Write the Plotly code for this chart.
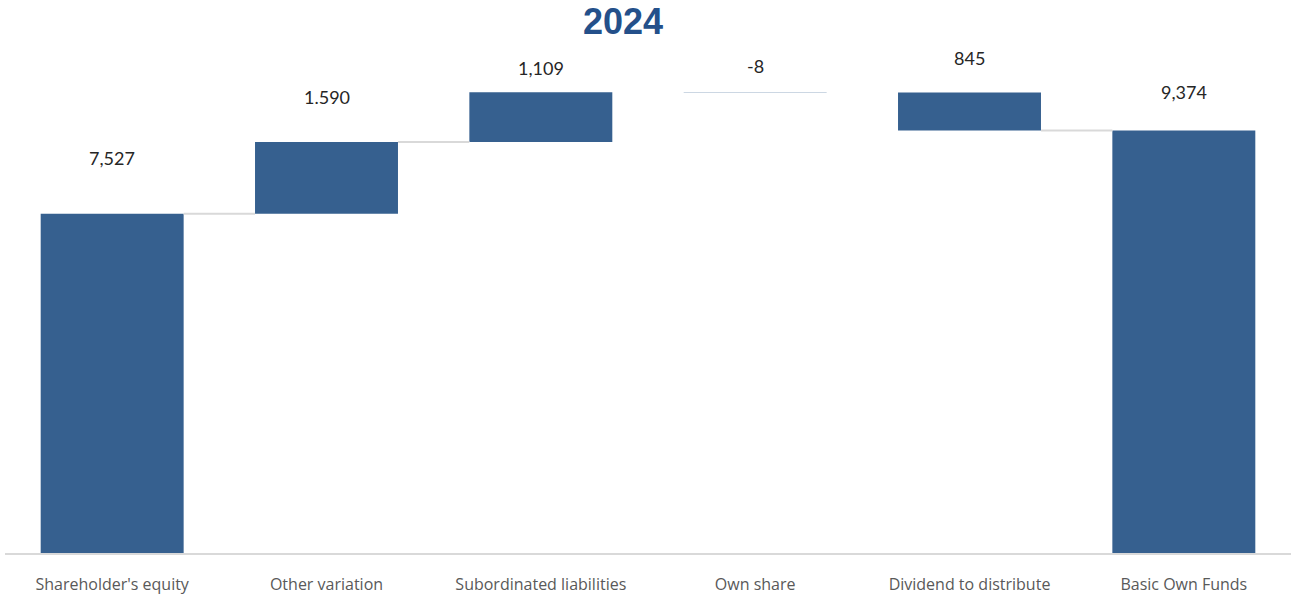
import plotly.graph_objects as go

# ---- data ----
categories = ["Shareholder's equity", "Other variation", "Subordinated liabilities",
              "Own share", "Dividend to distribute", "Basic Own Funds"]
values = [7527, 1590, 1109, -8, -845, 9374]
measures = ["absolute", "relative", "relative", "relative", "relative", "absolute"]
label_texts = ["7,527", "1.590", "1,109", "-8", "845", "9,374"]
title_text = "2024"

# ---- styling ----
BAR = "rgba(54,96,143,0.999)"
CONN = "#D9D9D9"
GAP = 0.333
label_shift = [56, 45, 24, 26, 35, 39]
connect_pairs = [(0, 1), (1, 2), (4, 5)]

x = list(range(len(categories)))

# cumulative levels (start/end of each bar)
starts, ends = [], []
level = 0
for v, m in zip(values, measures):
    if m == "absolute":
        s, e = 0, v
    else:
        s, e = level, level + v
    starts.append(s)
    ends.append(e)
    level = e

fig = go.Figure()
fig.add_trace(go.Waterfall(
    x=x, y=values, measure=measures,
    increasing=dict(marker=dict(color=BAR)),
    decreasing=dict(marker=dict(color=BAR)),
    totals=dict(marker=dict(color=BAR)),
    connector=dict(visible=False),
    hoverinfo="skip", showlegend=False,
))

w = 1 - GAP
for i, j in connect_pairs:
    fig.add_trace(go.Scatter(
        x=[i + w / 2, j - w / 2], y=[ends[i], ends[i]], mode="lines",
        line=dict(color=CONN, width=2), hoverinfo="skip", showlegend=False,
    ))

for i, t in enumerate(label_texts):
    top = max(starts[i], ends[i])
    fig.add_annotation(x=x[i], y=top, text=t, showarrow=False, yanchor="middle",
                       yshift=label_shift[i],
                       font=dict(family="Lato", size=18, color="#262626"))

fig.add_annotation(xref="paper", yref="paper", x=0.4806, y=1, yshift=34,
                   text=f"<b>{title_text}</b>", showarrow=False, yanchor="middle",
                   font=dict(family="Liberation Sans, Arial", size=36, color="#24508A"))

fig.update_layout(
    width=1291, height=596,
    margin=dict(l=5, r=0, t=55, b=43),
    paper_bgcolor="white", plot_bgcolor="white",
    waterfallgap=GAP,
    xaxis=dict(range=[-0.5, 5.5], tickvals=x, ticktext=categories,
               showline=True, linecolor="#D9D9D9", linewidth=2,
               ticks="outside", ticklen=16, tickcolor="rgba(0,0,0,0)",
               tickfont=dict(family="Open Sans", size=16, color="#595959"),
               showgrid=False, zeroline=False),
    yaxis=dict(range=[0, 11050], visible=False, showgrid=False, zeroline=False),
)

fig.write_html("out.html", config={"displayModeBar": False},
               post_script="document.body.style.margin='0';")
